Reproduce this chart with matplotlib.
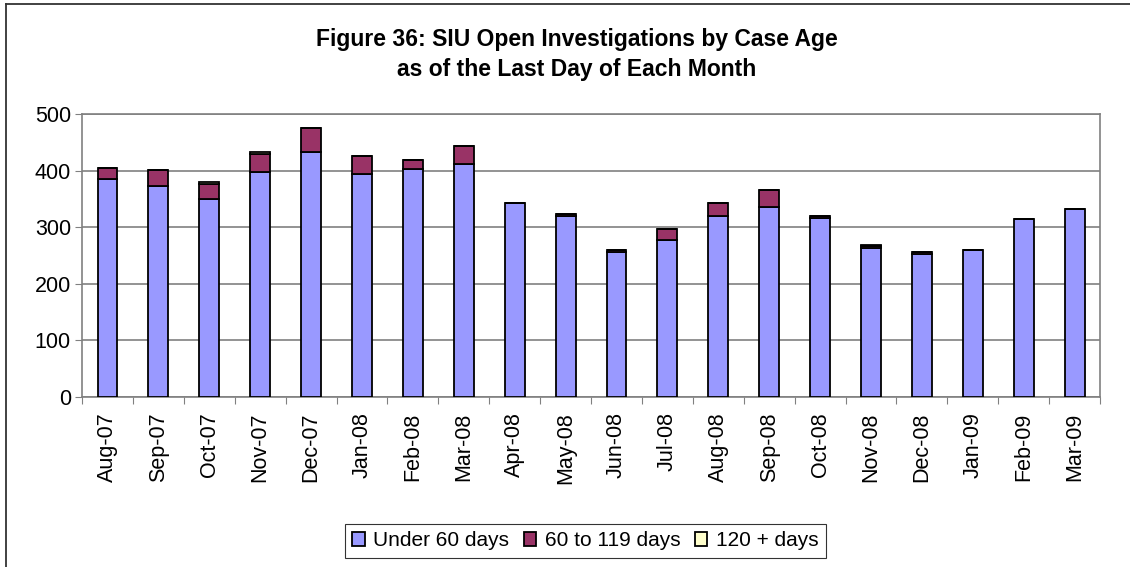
import numpy as np
import matplotlib.pyplot as plt
from matplotlib.lines import Line2D

months = ["Aug-07", "Sep-07", "Oct-07", "Nov-07", "Dec-07", "Jan-08", "Feb-08",
          "Mar-08", "Apr-08", "May-08", "Jun-08", "Jul-08", "Aug-08", "Sep-08",
          "Oct-08", "Nov-08", "Dec-08", "Jan-09", "Feb-09", "Mar-09"]
under_60 = [386, 373, 349, 398, 433, 394, 402, 412, 342, 320, 256, 278, 320, 335,
            316, 263, 253, 260, 314, 332]
d60_119 = [19, 28, 27, 31, 43, 32, 17, 32, 0, 3, 3, 18, 22, 31, 3, 4, 3, 0, 0, 0]
d120_plus = [0, 0, 4, 4, 0, 0, 0, 0, 0, 1, 1, 0, 0, 0, 1, 1, 1, 0, 0, 0]

plt.rcParams['font.family'] = ['Liberation Sans', 'DejaVu Sans']

fig = plt.figure(figsize=(11.3, 5.67), dpi=100)
ax = fig.add_axes([0.0726, 0.2998, 0.9009, 0.4992])

x = np.arange(len(months))
w = 0.39
u = np.array(under_60)
m = np.array(d60_119)
o = np.array(d120_plus)
ax.bar(x, u, w, color="#9999FF", edgecolor="black", linewidth=1.3, label="Under 60 days", zorder=3)
ax.bar(x, m, w, bottom=u, color="#993366", edgecolor="black", linewidth=1.3, label="60 to 119 days", zorder=3)
ax.bar(x, o, w, bottom=u + m, color="#FFFFCC", edgecolor="black", linewidth=1.3, label="120 + days", zorder=3)

ax.set_xlim(-0.5, len(months) - 0.5)
ax.set_ylim(0, 500)
ax.set_yticks(range(0, 501, 100))
ax.yaxis.grid(True, color="#808080", linewidth=1.2, zorder=0)
ax.set_xticks(np.arange(-0.5, len(months), 1), minor=False)
ax.set_xticklabels([])
ax.set_xticks(x, minor=True)
ax.set_xticklabels(months, minor=True, rotation=90, fontsize=15.5)
ax.tick_params(axis="x", which="minor", length=0, pad=11)
ax.tick_params(axis="x", which="major", length=5, color="#808080")
ax.tick_params(axis="y", length=5, color="#808080", labelsize=15.5, pad=3)
for s in ax.spines.values():
    s.set_color("#808080")
    s.set_linewidth(1.2)

fig.text(0.5105, 0.904, "Figure 36: SIU Open Investigations by Case Age\nas of the Last Day of Each Month",
         ha="center", va="center", fontsize=16.5, fontweight="bold", linespacing=1.35)

leg = fig.legend(loc="center", bbox_to_anchor=(0.518, 0.046), ncol=3, fontsize=15,
                 frameon=True, fancybox=False, edgecolor="black", handlelength=0.6,
                 handleheight=0.6, handletextpad=0.4, columnspacing=0.7, borderpad=0.35)
leg.get_frame().set_linewidth(0.8)

# outer chart border: only left and top edges are inside the picture
fig.add_artist(Line2D([6 / 1130, 6 / 1130], [0, 1 - 4 / 567], transform=fig.transFigure,
                      color="#333333", linewidth=1.3))
fig.add_artist(Line2D([6 / 1130, 1], [1 - 4 / 567, 1 - 4 / 567], transform=fig.transFigure,
                      color="#333333", linewidth=1.3))

fig.savefig("out.png", dpi=100)
